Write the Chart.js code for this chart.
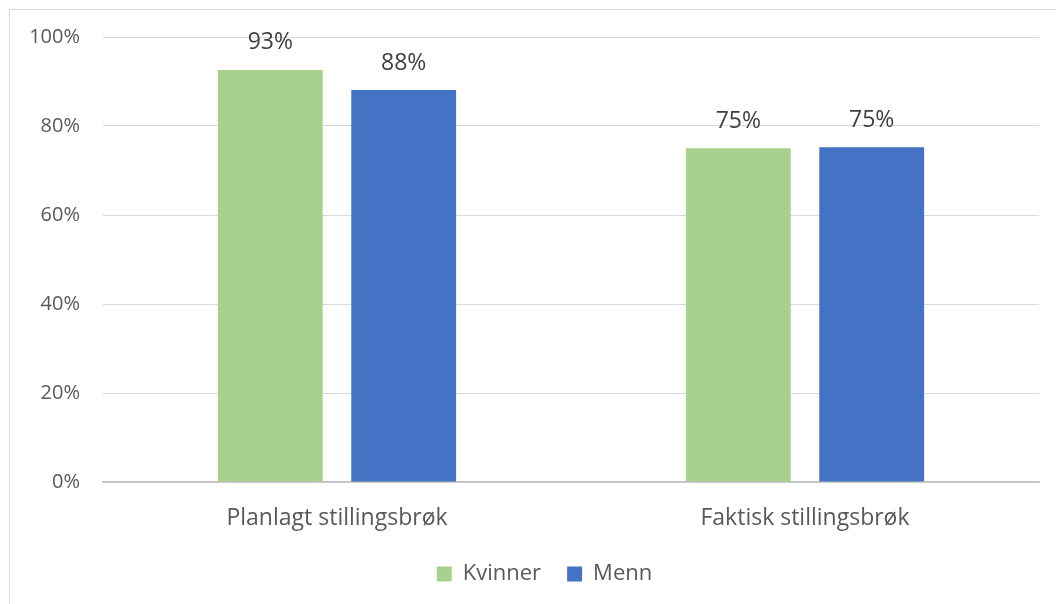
<!DOCTYPE html>
<html>
<head>
<meta charset="utf-8">
<script src="https://cdn.jsdelivr.net/npm/chart.js@4"></script>
<style>
    html, body { margin: 0; padding: 0; background: #ffffff; }
    #wrap { position: relative; width: 1056px; height: 604px; overflow: hidden; }
    #frame { position: absolute; left: 9px; top: 9px; width: 1100px; height: 700px; border: 1px solid #d9d9d9; }
    #box { position: absolute; left: 0; top: 0; width: 1056px; height: 604px; }
</style>
</head>
<body>
<div id="wrap">
    <div id="frame"></div>
    <div id="box"><canvas id="chart"></canvas></div>
</div>
<script>
// Chart data
const categories = ['Planlagt stillingsbrøk', 'Faktisk stillingsbrøk'];
const kvinner = [92.6, 75.0];
const menn = [88.1, 75.2];
const valueLabels = [['93%', '75%'], ['88%', '75%']];
const yTicks = [0, 20, 40, 60, 80, 100];

const FONT = '"Open Sans", sans-serif';

// Draws the value above each bar
const barValues = {
    id: 'barValues',
    afterDatasetsDraw(chart) {
        const ctx = chart.ctx;
        ctx.save();
        ctx.font = '23px ' + FONT;
        ctx.fillStyle = '#404040';
        ctx.textAlign = 'center';
        ctx.textBaseline = 'middle';
        chart.data.datasets.forEach((ds, i) => {
            chart.getDatasetMeta(i).data.forEach((bar, j) => {
                ctx.fillText(valueLabels[i][j], bar.x, bar.y - 27);
            });
        });
        ctx.restore();
    }
};

// Nudge the legend box so it sits like the original
const legendShift = {
    id: 'legendShift',
    afterLayout(chart) {
        const lg = chart.legend;
        if (!lg) return;
        lg.left += 25;
        lg.right += 25;
        lg.top += 5;
        lg.bottom += 5;
    }
};

new Chart(document.getElementById('chart'), {
    type: 'bar',
    data: {
        labels: categories,
        datasets: [{
            label: 'Kvinner',
            data: kvinner,
            backgroundColor: '#a9d18e'
        }, {
            label: 'Menn',
            data: menn,
            backgroundColor: '#4472c4'
        }]
    },
    options: {
        responsive: true,
        maintainAspectRatio: false,
        animation: false,
        categoryPercentage: 0.57,
        barPercentage: 0.786,
        layout: {
            padding: { top: 37, right: 17, bottom: 14, left: 0 }
        },
        plugins: {
            legend: {
                position: 'bottom',
                labels: {
                    boxWidth: 15,
                    boxHeight: 15,
                    padding: 26,
                    color: '#595959',
                    font: { family: FONT, size: 22 }
                }
            },
            tooltip: { enabled: false }
        },
        scales: {
            x: {
                grid: { display: false },
                border: { color: '#bfbfbf', width: 1.5 },
                ticks: {
                    color: '#595959',
                    padding: 15,
                    font: { family: FONT, size: 23 }
                },
                afterFit: scale => { scale.height = 50; }
            },
            y: {
                min: 0,
                max: 100,
                afterBuildTicks: scale => {
                    scale.ticks = yTicks.map(v => ({ value: v }));
                },
                afterFit: scale => { scale.width = 103; },
                grid: { color: '#d9d9d9', drawTicks: false },
                border: { display: false },
                ticks: {
                    color: '#595959',
                    padding: 23,
                    font: { family: FONT, size: 20 },
                    callback: v => v + '%'
                }
            }
        }
    },
    plugins: [barValues, legendShift]
});
</script>
</body>
</html>
